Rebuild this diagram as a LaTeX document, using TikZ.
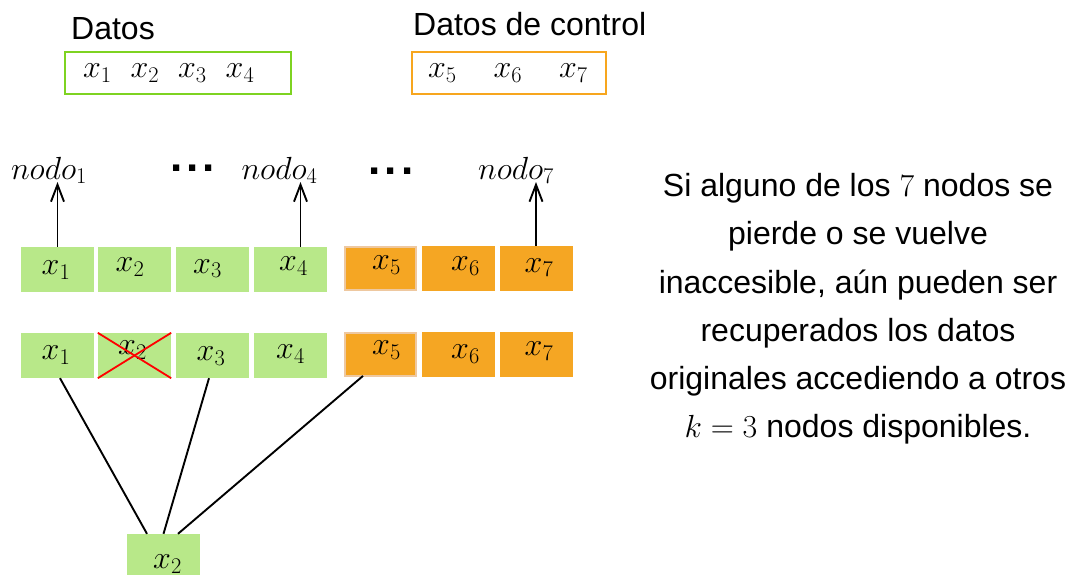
\documentclass[tikz,border=0pt]{standalone}
\usepackage{fix-cm}
\usepackage{fontspec}
\setmainfont{Liberation Sans}
\usetikzlibrary{arrows.meta,calc}
\definecolor{gfill}{RGB}{184,232,137}
\definecolor{gline}{RGB}{126,211,33}
\definecolor{ofill}{RGB}{245,166,35}
\definecolor{oline}{RGB}{247,166,30}
\definecolor{peach}{RGB}{238,200,160}
\newcommand\mvtxt[3]{\hspace*{#1}\raisebox{\dimexpr#2-5pt\relax}[0pt][0pt]{\makebox[0pt]{#3}}\hspace*{-#1}}
\begin{document}
\begin{tikzpicture}[x=1pt,y=-1pt,
  every node/.style={font=\fontsize{32}{48.2}\selectfont},
  gcell/.style={fill=gfill,minimum width=73pt,minimum height=45pt,inner sep=0pt},
  ocell/.style={fill=ofill,minimum width=73pt,minimum height=45pt,inner sep=0pt},
  ocellb/.style={ocell,draw=peach,line width=1.8pt,minimum width=71pt,minimum height=43pt},
  arr/.style={line width=1.9pt,-{Straight Barb[length=17pt,width=13pt,line width=1.9pt]}},
  link/.style={line width=1.9pt},
  cross/.style={red,line width=1.8pt},
  dots/.style={inner sep=0pt,font=\fontsize{44}{48}\selectfont\bfseries}]
\useasboundingbox (0,0) rectangle (1071,574);

% top labels and boxes
\node[anchor=base west,inner sep=0pt] (ldatos) at (71,39) {Datos};
\node[anchor=base west,inner sep=0pt] (lcontrol) at (413,35) {Datos de control};
\node[draw=gline,line width=2.2pt,minimum width=226pt,minimum height=42pt,inner sep=0pt] (gbox) at (178,73)
  {\makebox[226pt][l]{\hspace{18pt}$x_1$\hspace{19pt}$x_2$\hspace{19pt}$x_3$\hspace{19pt}$x_4$}};
\node[draw=oline,line width=2.2pt,minimum width=194pt,minimum height=42pt,inner sep=0pt] (obox) at (509,73)
  {\makebox[194pt][l]{\hspace{16pt}$x_5$\hspace{37pt}$x_6$\hspace{37pt}$x_7$}};

% node labels and dots
\node[anchor=base,inner sep=0pt] (n1) at (49,179) {$nodo_1$};
\node[anchor=base,inner sep=0pt] (n4) at (279.5,179) {$nodo_4$};
\node[anchor=base,inner sep=0pt] (n7) at (516,179) {$nodo_7$};
\node[dots,anchor=base] (d1) at (192.5,171) {.\hspace{4pt}.\hspace{4pt}.};
\node[dots,anchor=base] (d2) at (391,174) {.\hspace{4pt}.\hspace{4pt}.};

% row 1
\node[gcell] (a1) at (57.5,269.5) {\mvtxt{-1.5pt}{0pt}{$x_1$}};
\node[gcell] (a2) at (134.5,269.5) {\mvtxt{-4.5pt}{3pt}{$x_2$}};
\node[gcell] (a3) at (212.5,269.5) {\mvtxt{-5pt}{1.5pt}{$x_3$}};
\node[gcell] (a4) at (290.5,269.5) {\mvtxt{3pt}{4pt}{$x_4$}};
\node[ocellb] (a5) at (380.5,268.5) {\mvtxt{6pt}{4pt}{$x_5$}};
\node[ocell] (a6) at (458.5,268.5) {\mvtxt{7pt}{3pt}{$x_6$}};
\node[ocell] (a7) at (536,268.5) {\mvtxt{3pt}{1.5pt}{$x_7$}};

% row 2
\node[gcell] (b1) at (57.5,355.5) {\mvtxt{-1.5pt}{1pt}{$x_1$}};
\node[gcell] (b2) at (134.5,355.5) {\mvtxt{-2pt}{6pt}{$x_2$}};
\node[gcell] (b3) at (212.5,355.5) {\mvtxt{-1.5pt}{0pt}{$x_3$}};
\node[gcell] (b4) at (290.5,355.5) {\mvtxt{0pt}{2pt}{$x_4$}};
\node[ocellb] (b5) at (380.5,354.5) {\mvtxt{6pt}{5pt}{$x_5$}};
\node[ocell] (b6) at (458.5,354.5) {\mvtxt{7pt}{1pt}{$x_6$}};
\node[ocell] (b7) at (536,354.5) {\mvtxt{3pt}{4pt}{$x_7$}};
\draw[cross] (b2.north west) -- (b2.south east);
\draw[cross] (b2.south west) -- (b2.north east);

% recovered block
\node[gcell] (c2) at (163.5,556.5) {\mvtxt{4pt}{-7pt}{$x_2$}};

% arrows
\coordinate (t1) at (57.5,182);
\coordinate (t4) at (300.5,182);
\coordinate (t7) at (536,182);
\draw[arr] (a1.north) -- (t1);
\draw[arr] ($(a4.north)+(10,0)$) -- (t4);
\draw[arr] (a7.north) -- (t7);

% links
\draw[link] ($(b1.south)+(2.5,0)$) -- ($(c2.north)+(-16.5,0)$);
\draw[link] ($(b3.south)+(-3.5,0)$) -- (c2.north);
\draw[link] ($(b5.south)+(-17.5,-1)$) -- ($(c2.north)+(14.5,0)$);

% explanation
\node[align=center,inner sep=0pt] (txt) at (858,309)
 {Si alguno de los $7$ nodos se\\ pierde o se vuelve\\ inaccesible, aún pueden ser\\ recuperados los datos\\ originales accediendo a otros\\ $k=3$ nodos disponibles.};
\end{tikzpicture}
\end{document}
